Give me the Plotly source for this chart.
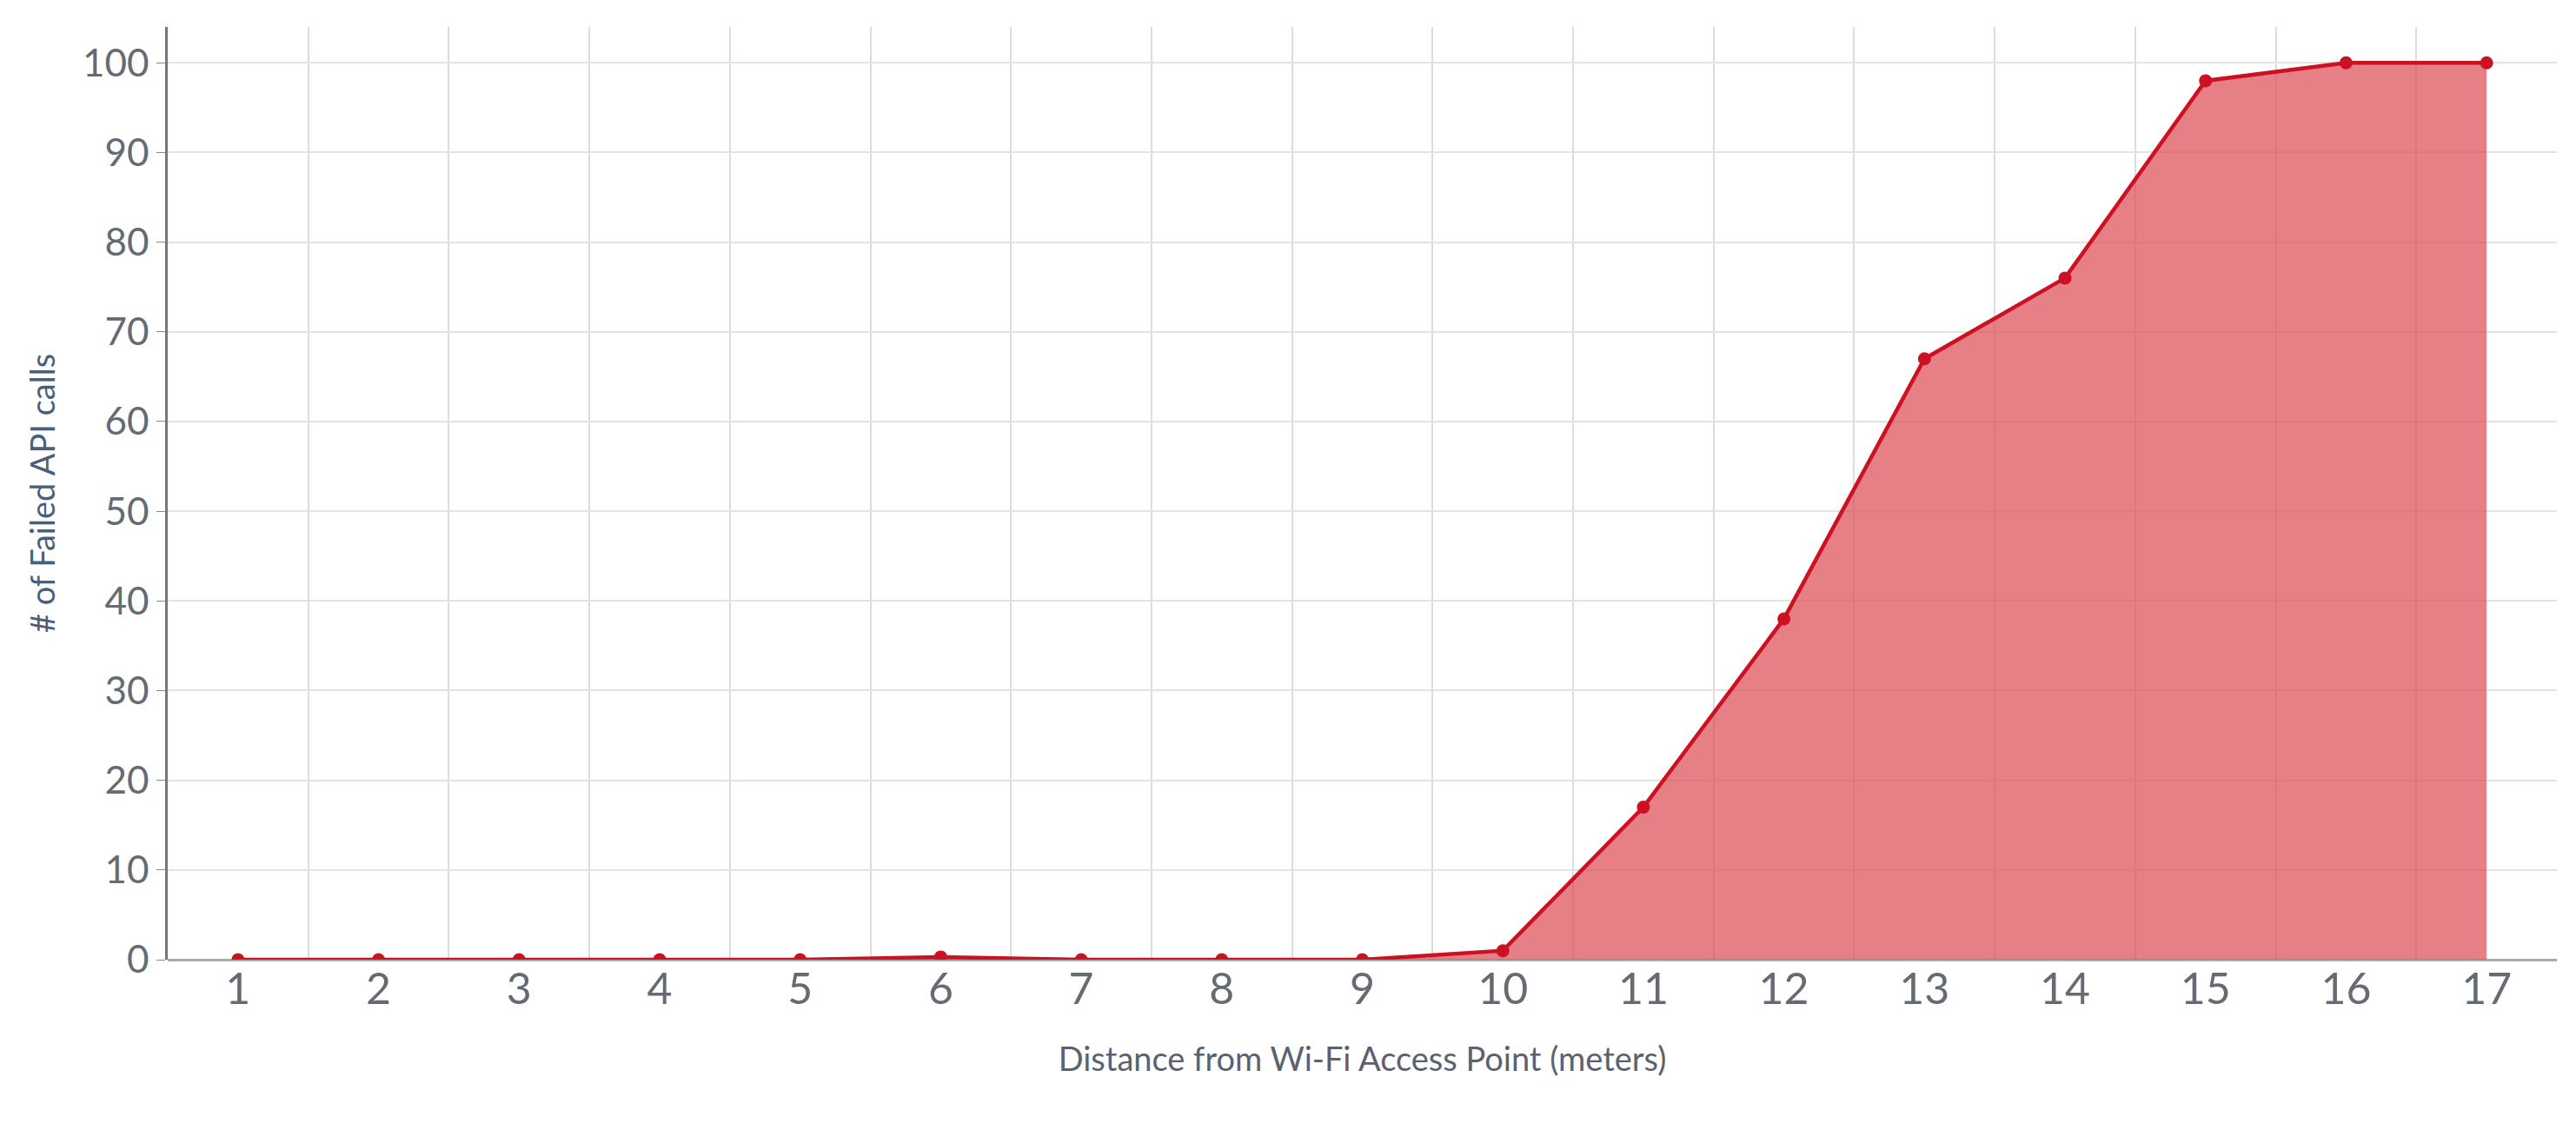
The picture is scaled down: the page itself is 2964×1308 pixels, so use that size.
import plotly.graph_objects as go

distance = list(range(1, 18))
failed = [0, 0, 0, 0, 0, 0.3, 0, 0, 0, 1, 17, 38, 67, 76, 98, 100, 100]
x_ticks = [str(d) for d in distance]
y_ticks = list(range(0, 101, 10))
grid_x = [d + 0.5 for d in range(1, 17)]

fig = go.Figure(go.Scatter(
    x=distance, y=failed, mode="lines+markers", fill="tozeroy",
    fillcolor="rgba(221,72,84,0.7)",
    line=dict(color="#cc1122", width=4.5),
    marker=dict(color="#cc1122", size=15),
))
fig.update_layout(
    width=2964, height=1308, plot_bgcolor="white", paper_bgcolor="white",
    margin=dict(l=185, r=30, t=23, b=212), showlegend=False,
    font=dict(family="Lato", color="#666b73"),
)
fig.update_xaxes(
    range=[0.5, 17.5], tickvals=distance, ticktext=x_ticks, showgrid=False,
    tickfont=dict(size=50), ticks="", zeroline=False, showline=False,
    minor=dict(tickvals=grid_x, showgrid=True, gridcolor="#dcdcdc", gridwidth=2, ticks=""),
    title=dict(text="Distance from Wi-Fi Access Point (meters)", font=dict(size=38, color="#5a6270"), standoff=40),
)
fig.update_yaxes(
    range=[0, 104], tickvals=y_ticks, gridcolor="#e3e3e3", gridwidth=2,
    tickfont=dict(size=44), ticks="outside", ticklen=10, tickcolor="#888",
    showline=True, linecolor="#777", linewidth=2.5, zeroline=True, zerolinecolor="#aaa", zerolinewidth=3,
    title=dict(text="# of Failed API calls", font=dict(size=38, color="#4a6078"), standoff=20),
)
fig.write_html("out.html")
